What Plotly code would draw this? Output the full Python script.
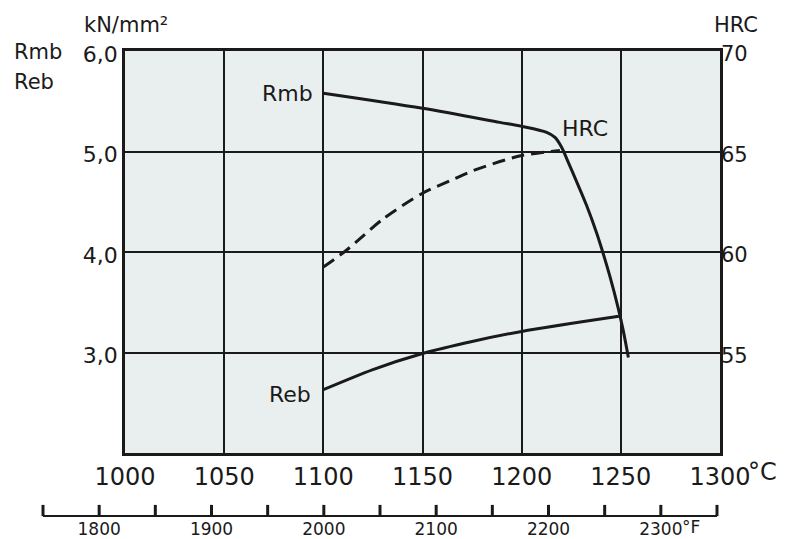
import plotly.graph_objects as go

# ---- data ----
rmb_temp = [1100, 1150, 1189, 1200, 1212.6, 1216.8, 1220.2, 1222.7, 1227.7, 1232.8, 1237.8, 1240.4, 1244.6, 1248.7, 1251.2, 1253.8]
rmb_val = [5.58, 5.43, 5.29, 5.25, 5.19, 5.14, 5.04, 4.93, 4.70, 4.46, 4.19, 4.03, 3.75, 3.44, 3.22, 2.95]

reb_temp = [1100, 1125, 1150, 1175, 1200, 1249]
reb_val = [2.63, 2.83, 2.99, 3.11, 3.21, 3.36]

hrc_temp = [1100, 1111.8, 1130.2, 1149.6, 1163.9, 1175.6, 1189, 1200, 1219.3]
hrc_val = [59.25, 60.1, 61.65, 62.9, 63.55, 64.05, 64.5, 64.8, 65.05]

c_ticks = [1000, 1050, 1100, 1150, 1200, 1250, 1300]
c_labels = ["1000", "1050", "1100", "1150", "1200", "1250", "1300"]

strength_ticks = [3, 4, 5, 6]
strength_labels = ["3,0", "4,0", "5,0", "6,0"]

hrc_ticks = [55, 60, 65, 70]
hrc_labels = ["55", "60", "65", "70"]

f_ticks = [1750, 1800, 1850, 1900, 1950, 2000, 2050, 2100, 2150, 2200, 2250, 2300, 2350]
f_labels = ["", "1800", "", "1900", "", "2000", "", "2100", "", "2200", "", "2300", ""]

FONT = "DejaVu Sans"
INK = "#1a1a1a"
BG = "#e9efef"

fig = go.Figure()

fig.add_trace(go.Scatter(x=rmb_temp, y=rmb_val, mode="lines", xaxis="x", yaxis="y",
                         line=dict(color=INK, width=3, shape="spline", smoothing=0.9),
                         showlegend=False, hoverinfo="skip"))
fig.add_trace(go.Scatter(x=reb_temp, y=reb_val, mode="lines", xaxis="x", yaxis="y",
                         line=dict(color=INK, width=3, shape="spline", smoothing=0.8),
                         showlegend=False, hoverinfo="skip"))
fig.add_trace(go.Scatter(x=hrc_temp, y=hrc_val, mode="lines", xaxis="x", yaxis="y2",
                         line=dict(color=INK, width=3, dash="13px,7px", shape="spline", smoothing=0.8),
                         showlegend=False, hoverinfo="skip"))
# Fahrenheit scale tick marks (upward strokes sitting on the scale line)
fig.add_trace(go.Scatter(x=f_ticks, y=[0] * len(f_ticks), mode="markers",
                         xaxis="x2", yaxis="y3",
                         marker=dict(symbol="line-ns", size=8, color=INK,
                                     line=dict(color=INK, width=3)),
                         showlegend=False, hoverinfo="skip", cliponaxis=False))

# paper: x 43..720 px, y 51..515 px
ydom0 = 62 / 464
xdom0 = 82 / 677
y3_px = 0.08 * 464  # pixel height of the hidden strip under the °F scale
y3_lo = -4.5 / y3_px

fig.update_layout(
    template="none",
    width=785, height=539,
    margin=dict(l=43, r=65, t=51, b=24, autoexpand=False),
    paper_bgcolor="white",
    plot_bgcolor="rgba(0,0,0,0)",
    font=dict(family=FONT, color=INK),
    xaxis=dict(domain=[xdom0, 1], range=[1000, 1300], anchor="y",
               tickmode="array", tickvals=c_ticks, ticktext=c_labels,
               tickfont=dict(size=24, family=FONT, color=INK), ticks="",
               showgrid=True, gridcolor=INK, gridwidth=2,
               showline=True, linecolor=INK, linewidth=2.5, mirror=True,
               zeroline=False, fixedrange=True, automargin=False),
    yaxis=dict(domain=[ydom0, 1], range=[2, 6], anchor="x",
               tickmode="array", tickvals=strength_ticks, ticktext=strength_labels,
               tickfont=dict(size=22, family=FONT, color=INK), ticks="",
               ticklabelshift=3,
               showgrid=True, gridcolor=INK, gridwidth=2,
               showline=True, linecolor=INK, linewidth=2.5, mirror=True,
               zeroline=False, fixedrange=True, automargin=False),
    yaxis2=dict(overlaying="y", side="right", range=[50, 70], anchor="x",
                tickmode="array", tickvals=hrc_ticks, ticktext=hrc_labels,
                tickfont=dict(size=21, family=FONT, color=INK), ticks="",
                ticklabelshift=3,
                showgrid=False, zeroline=False, showline=False, fixedrange=True,
                automargin=False),
    xaxis2=dict(domain=[0, 674 / 677], range=[1750, 2350], anchor="y3", side="bottom",
                tickmode="array", tickvals=f_ticks, ticktext=f_labels,
                tickfont=dict(size=17, family=FONT, color=INK), ticks="",
                ticklabelstandoff=-2,
                showline=True, linecolor=INK, linewidth=2,
                showgrid=False, zeroline=False, fixedrange=True, automargin=False),
    yaxis3=dict(domain=[0, 0.08], range=[y3_lo, y3_lo + 1], anchor="x2", showticklabels=False,
                showline=False, ticks="", showgrid=False,
                zeroline=False, fixedrange=True, automargin=False),
)

fig.add_shape(type="rect", xref="x", yref="y", x0=1000, x1=1300, y0=2, y1=6,
              fillcolor=BG, line=dict(width=0), layer="below")

def ann(text, x, y, xref, yref, xanchor, size=22):
    fig.add_annotation(text=text, x=x, y=y, xref=xref, yref=yref, xanchor=xanchor,
                       yanchor="middle", showarrow=False,
                       font=dict(size=size, family=FONT, color=INK))

# in-plot curve labels
ann("Rmb", 1096, 5.58, "x", "y", "right")
ann("HRC", 1219.5, 5.23, "x", "y", "left")
ann("Reb", 1095, 2.58, "x", "y", "right")

# outside labels (paper coords)
ann("kN/mm²", (82 - 43) / 677, 1 + (51 - 25) / 464, "paper", "paper", "left", 21)
ann("Rmb", (12 - 43) / 677, 1 - (52 - 51) / 464, "paper", "paper", "left", 21)
ann("Reb", (12 - 43) / 677, 1 - (82 - 51) / 464, "paper", "paper", "left", 21)
ann("HRC", (712 - 43) / 677, 1 + (51 - 25) / 464, "paper", "paper", "left", 21)
ann("°C", (746 - 43) / 677, 1 - (472 - 51) / 464, "paper", "paper", "left", 24)
ann("°F", (680 - 43) / 677, 1 - (527 - 51) / 464, "paper", "paper", "left", 17)

fig.write_html("out.html", config={"displayModeBar": False},
               post_script="document.body.style.margin='0';")
